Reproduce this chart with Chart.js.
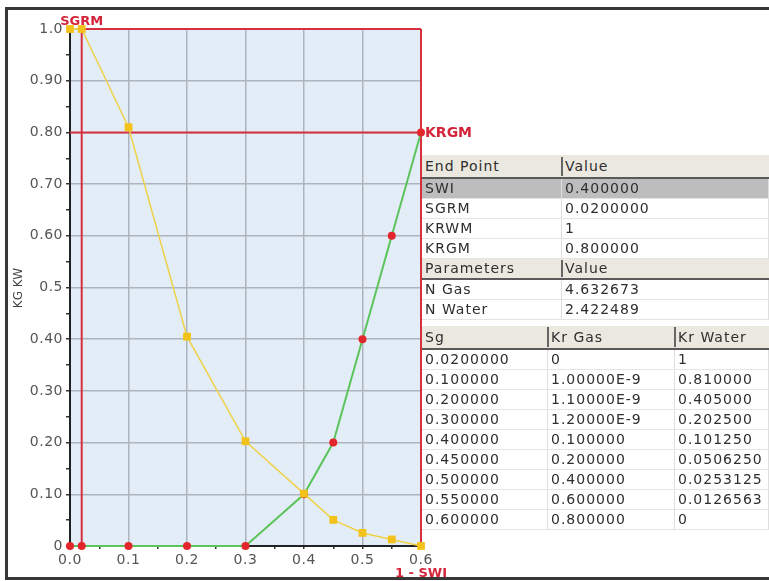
<!DOCTYPE html>
<html>
<head>
<meta charset="utf-8">
<script src="https://cdn.jsdelivr.net/npm/chart.js@4.4.0/dist/chart.umd.min.js"></script>
<style>
  html, body { margin: 0; padding: 0; background: #fff; overflow: hidden; }
  #wrap { position: relative; width: 769px; height: 581px; overflow: hidden; }
  #frame { position: absolute; left: 5px; top: 7px; width: 800px; height: 567px; border: 3px solid #383838; }
  canvas { position: absolute; left: 0; top: 0; }
  .cell { position: absolute; box-sizing: border-box; padding-left: 3px; font: 14px "DejaVu Sans", sans-serif;
          letter-spacing: 1px; color: #2e2e2e; white-space: nowrap; overflow: hidden; }
  .hd { background: #ebe8e0; border-bottom: 2px solid #5a5a5a; }
  .rw { background: #fff; border-bottom: 1px solid #e4e4e4; border-right: 1px solid #dedede; }
  .sel { background: #bdbdbd; }
  .sep { position: absolute; width: 2px; background: #666; }
</style>
</head>
<body>
<div id="wrap">
  <div id="frame"></div>
  <canvas id="chart" width="769" height="581"></canvas>
  <div id="table"></div>
</div>
<script>
// curve data (Sg vs relative permeability)
const sgValues = [0, 0.02, 0.1, 0.2, 0.3, 0.4, 0.45, 0.5, 0.55, 0.6];
const krGas = [0, 0, 0, 0, 0, 0.1, 0.2, 0.4, 0.6, 0.8];
const krWater = [1, 1, 0.81, 0.405, 0.2025, 0.10125, 0.050625, 0.0253125, 0.0126563, 0];

// end point markers
const sgrm = 0.02;
const krgm = 0.8;
const oneMinusSwi = 0.6;

const yTickLabels = {100: '1.0', 90: '0.90', 80: '0.80', 70: '0.70', 60: '0.60', 50: '0.5',
  40: '0.40', 30: '0.30', 20: '0.20', 10: '0.10', 0: '0'};

// table texts
const endPointNames = ['SWI', 'SGRM', 'KRWM', 'KRGM'];
const endPointValues = ['0.400000', '0.0200000', '1', '0.800000'];
const paramNames = ['N Gas', 'N Water'];
const paramValues = ['4.632673', '2.422489'];
const tableSg = ['0.0200000', '0.100000', '0.200000', '0.300000', '0.400000', '0.450000', '0.500000', '0.550000', '0.600000'];
const tableKrGas = ['0', '1.00000E-9', '1.10000E-9', '1.20000E-9', '0.100000', '0.200000', '0.400000', '0.600000', '0.800000'];
const tableKrWater = ['1', '0.810000', '0.405000', '0.202500', '0.101250', '0.0506250', '0.0253125', '0.0126563', '0'];

function pts(xs, ys) {
  return xs.map((x, i) => ({x: x, y: ys[i]}));
}

const redLine = {
  showLine: true, borderColor: '#d6303f', borderWidth: 2, pointRadius: 0, pointHoverRadius: 0, clip: false
};

const plotBg = {
  id: 'plotBg',
  beforeDraw(chart) {
    const a = chart.chartArea, ctx = chart.ctx;
    ctx.save();
    ctx.fillStyle = '#e3edf7';
    ctx.fillRect(a.left, a.top, a.right - a.left, a.bottom - a.top);
    ctx.restore();
    ctx.letterSpacing = '0.5px';
  },
  afterDatasetsDraw(chart) {
    const ctx = chart.ctx, xs = chart.scales.x, ys = chart.scales.y;
    ctx.save();
    ctx.letterSpacing = '0px';
    ctx.fillStyle = '#d4243a';
    ctx.font = 'bold 13px "DejaVu Sans"';
    ctx.textAlign = 'center';
    ctx.textBaseline = 'alphabetic';
    ctx.fillText('SGRM', xs.getPixelForValue(sgrm), 25);
    ctx.fillText('1 - SWI', xs.getPixelForValue(oneMinusSwi), 577);
    ctx.font = 'bold 14px "DejaVu Sans"';
    ctx.textAlign = 'left';
    ctx.textBaseline = 'middle';
    ctx.fillText('KRGM', xs.getPixelForValue(oneMinusSwi) + 4, ys.getPixelForValue(krgm) + 1);
    // axis title
    ctx.fillStyle = '#444';
    ctx.font = '12px "DejaVu Sans"';
    ctx.translate(19, 288);
    ctx.rotate(-Math.PI / 2);
    ctx.textAlign = 'center';
    ctx.fillText('KG KW', 0, 0);
    ctx.restore();
  }
};

new Chart(document.getElementById('chart'), {
  type: 'scatter',
  data: {
    datasets: [
      {
        label: 'Kr Water',
        data: pts(sgValues, krWater),
        showLine: true,
        borderColor: '#efd24a',
        borderWidth: 1.5,
        pointStyle: 'rect',
        pointRadius: 5.5,
        pointBackgroundColor: '#f3c21a',
        pointBorderWidth: 0,
        clip: false
      },
      {
        label: 'Kr Gas',
        data: pts(sgValues, krGas),
        showLine: true,
        borderColor: '#5cc45c',
        borderWidth: 2,
        pointRadius: 4,
        pointBackgroundColor: '#e3262b',
        pointBorderWidth: 0,
        clip: false
      },
      Object.assign({data: [{x: sgrm, y: 0}, {x: sgrm, y: 1}]}, redLine),
      Object.assign({data: [{x: sgrm, y: 1}, {x: oneMinusSwi, y: 1}]}, redLine),
      Object.assign({data: [{x: oneMinusSwi, y: 0}, {x: oneMinusSwi, y: 1}]}, redLine),
      Object.assign({data: [{x: 0, y: krgm}, {x: oneMinusSwi, y: krgm}]}, redLine)
    ]
  },
  options: {
    responsive: false,
    animation: false,
    layout: {autoPadding: false, padding: {left: 0, top: 29, right: 348, bottom: 0}},
    plugins: {legend: {display: false}, tooltip: {enabled: false}},
    scales: {
      x: {
        type: 'linear', min: 0, max: 0.6,
        afterFit(s) { s.height = 35; },
        border: {color: '#222', width: 2},
        grid: {
          color: c => Math.round(c.tick.value * 100) % 10 === 0 ? '#aeb3bd' : 'transparent',
          lineWidth: 1.5, tickLength: 3, tickColor: '#333'
        },
        ticks: {
          stepSize: 0.05, autoSkip: false, maxRotation: 0, padding: 3, color: '#555',
          font: {family: 'DejaVu Sans', size: 14},
          callback: v => Math.round(v * 100) % 10 === 0 ? v.toFixed(1) : ''
        }
      },
      y: {
        type: 'linear', min: 0, max: 1,
        afterFit(s) { s.width = 70; },
        border: {color: '#222', width: 2},
        grid: {
          color: c => Math.round(c.tick.value * 100) % 10 === 0 ? '#aeb3bd' : 'transparent',
          lineWidth: 1.5, tickLength: 4, tickColor: '#333'
        },
        ticks: {
          stepSize: 0.05, autoSkip: false, padding: 3, color: '#555',
          font: {family: 'DejaVu Sans', size: 14},
          callback: v => { const k = Math.round(v * 100); return k % 10 === 0 ? yTickLabels[k] : ''; }
        }
      }
    }
  },
  plugins: [plotBg]
});

// side table
const table = document.getElementById('table');
function cell(text, left, width, top, height, cls) {
  const d = document.createElement('div');
  d.className = 'cell ' + cls;
  d.style.left = left + 'px';
  d.style.width = width + 'px';
  d.style.top = top + 'px';
  d.style.height = height + 'px';
  d.style.lineHeight = (cls.indexOf('hd') >= 0 ? height - 2 : height - 1) + 'px';
  d.textContent = text;
  table.appendChild(d);
}
function sep(left, top, height) {
  const d = document.createElement('div');
  d.className = 'sep';
  d.style.left = left + 'px';
  d.style.top = top + 'px';
  d.style.height = height + 'px';
  table.appendChild(d);
}
const tl = 422, tr = 769;
const c1 = 562;
cell('End Point', tl, c1 - tl, 155, 24, 'hd');
cell('Value', c1, tr - c1, 155, 24, 'hd');
sep(c1 - 1, 157, 19);
endPointNames.forEach((n, i) => {
  const top = 179 + i * 20;
  const cls = i === 0 ? 'rw sel' : 'rw';
  cell(n, tl, c1 - tl, top, 20, cls);
  cell(endPointValues[i], c1, tr - c1, top, 20, cls);
});
cell('Parameters', tl, c1 - tl, 259, 21, 'hd');
cell('Value', c1, tr - c1, 259, 21, 'hd');
sep(c1 - 1, 260, 17);
paramNames.forEach((n, i) => {
  const top = 280 + i * 20;
  cell(n, tl, c1 - tl, top, 20, 'rw');
  cell(paramValues[i], c1, tr - c1, top, 20, 'rw');
});
const k1 = 548, k2 = 675;
cell('Sg', tl, k1 - tl, 326, 24, 'hd');
cell('Kr Gas', k1, k2 - k1, 326, 24, 'hd');
cell('Kr Water', k2, tr - k2, 326, 24, 'hd');
sep(k1 - 1, 327, 20);
sep(k2 - 1, 327, 20);
tableSg.forEach((s, i) => {
  const top = 350 + i * 20;
  cell(s, tl, k1 - tl, top, 20, 'rw');
  cell(tableKrGas[i], k1, k2 - k1, top, 20, 'rw');
  cell(tableKrWater[i], k2, tr - k2, top, 20, 'rw');
});
</script>
</body>
</html>
